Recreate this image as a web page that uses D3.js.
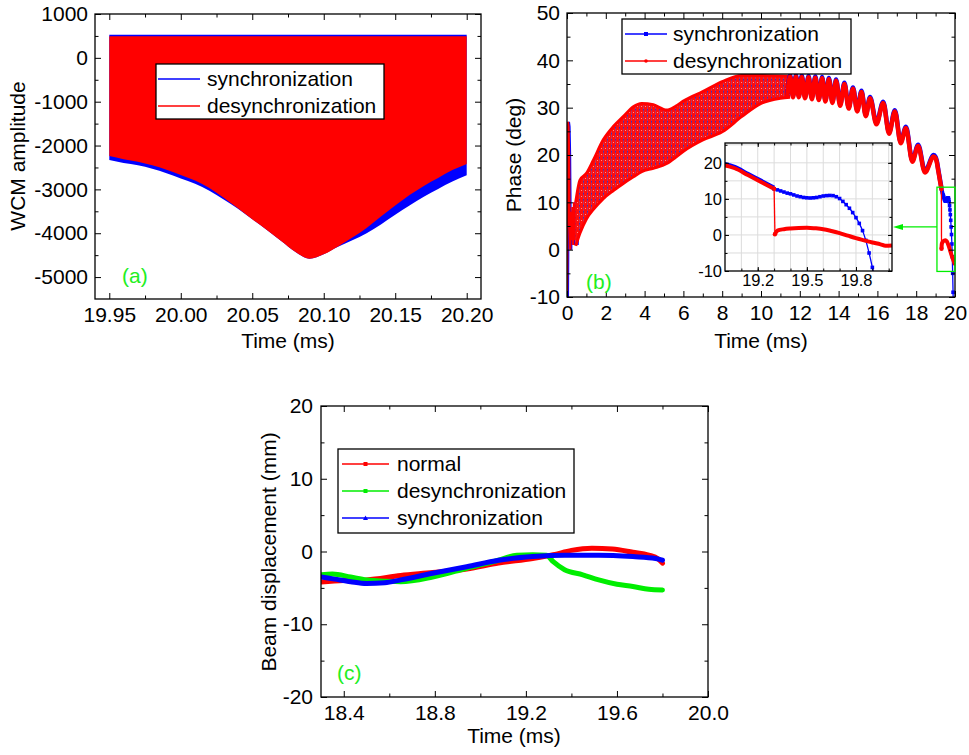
<!DOCTYPE html>
<html><head><meta charset="utf-8">
<script src="https://cdn.jsdelivr.net/npm/d3@7"></script>
<style>
body{margin:0;background:#fff;}
svg{display:block;}
</style></head><body>
<svg id="chart" width="969" height="755"></svg>
<script>
const FONT = '"Liberation Sans", Arial, Helvetica, sans-serif';

// ---------------- Panel (a): WCM amplitude envelopes ----------------
const aTime = [19.95,19.96,19.97,19.98,19.99,20.00,20.01,20.02,20.03,20.04,20.05,20.06,20.07,20.08,20.09,20.10,20.11,20.12,20.13,20.14,20.15,20.16,20.17,20.18,20.19,20.20];
const aSyncLow   = [-2330,-2400,-2450,-2530,-2630,-2750,-2870,-3030,-3230,-3440,-3680,-3920,-4170,-4420,-4580,-4480,-4310,-4160,-4000,-3800,-3580,-3370,-3170,-2990,-2820,-2680];
const aDesyncLow = [-2240,-2310,-2370,-2450,-2550,-2670,-2800,-2970,-3190,-3430,-3680,-3920,-4170,-4420,-4580,-4480,-4300,-4100,-3880,-3620,-3370,-3130,-2920,-2740,-2560,-2420];
const aSyncHigh = 525;
const aDesyncHigh = 495;
const aXTicks = [19.95,20.00,20.05,20.10,20.15,20.20];
const aXMinor = [19.975,20.025,20.075,20.125,20.175];
const aYTicks = [-5000,-4000,-3000,-2000,-1000,0,1000];
const aYMinor = [-4500,-3500,-2500,-1500,-500,500];

// ---------------- Panel (b): phase ----------------
const bEarlyT = [0.0,0.02,0.05,0.08,0.11,0.14,0.17,0.2,0.24,0.28,0.32,0.36,0.4,0.45,0.5,0.55];
const bEarlyV = [-10,3,27,26,20,5,0,8,2,9,1,10,2,10,1,11];
const bBandT  = [0.45,0.67,1.0,1.36,1.87,2.39,2.9,3.42,3.85,4.45,5.14,5.6,6.0,7.0,8.0,9.0,10.0,11.0,11.5];
const bBandHi = [10.0,14.7,16.1,18.9,23.2,26.0,28.1,30.2,30.9,30.6,29.5,30.3,31.4,33.4,35.5,36.8,36.8,36.7,36.6];
const bBandLo = [0.8,3.5,6.5,8.5,10.8,12.5,14.0,15.4,16.5,17.2,18.2,19.5,20.8,23.2,24.9,28.1,30.9,32.0,32.2];
const bOscT = [11.35,11.5,11.65,11.8,11.95,12.1,12.27,12.45,12.62,12.8,12.98,13.15,13.32,13.5,13.68,13.87,14.08,14.3,14.52,14.74,14.96,15.18,15.4,15.62,15.95,16.3,16.6,16.9,17.2,17.47,17.8,18.1,18.45,18.9,19.0,19.06,19.14,19.22,19.3];
const bOscV = [32.3,36.6,32.2,36.6,32.2,36.5,32.0,36.4,31.8,36.3,31.6,36.2,31.3,36.0,31.0,35.7,30.4,35.0,29.8,34.0,29.2,33.3,28.2,32.0,26.5,31.0,24.5,29.2,22.5,25.7,18.6,21.9,16.3,19.7,19.3,18.5,16.6,14.7,12.8];
const bSyncTailT = [19.30,19.32,19.34,19.36,19.38,19.40,19.42,19.44,19.46,19.48,19.50,19.52,19.54,19.56,19.58,19.60,19.62,19.64,19.66,19.68,19.70,19.72,19.74,19.76,19.78,19.80,19.82,19.84,19.86,19.88,19.90,19.92,19.94];
const bSyncTailV = [12.8,12.5,12.2,11.9,11.6,11.4,11.1,10.8,10.6,10.4,10.3,10.25,10.3,10.4,10.6,10.8,10.9,10.95,10.9,10.6,10.1,9.3,8.4,7.4,6.2,4.8,3.2,1.2,-1.5,-5.0,-9.0,-13.5,-18.0];
const bDesyncTailT = [19.305,19.32,19.36,19.4,19.45,19.5,19.55,19.6,19.65,19.7,19.75,19.8,19.85,19.9,19.95,19.98,20.02];
const bDesyncTailV = [0.2,1.2,1.6,1.8,1.95,2.0,1.85,1.6,1.1,0.5,-0.2,-0.9,-1.5,-2.1,-2.6,-3.0,-2.9];
const bZoomT = [19.07,20.0];
const bZoomV = [-4.6,13.2];
const bArrowV = 4.8;
const bXTicks = [0,2,4,6,8,10,12,14,16,18,20];
const bXMinor = [1,3,5,7,9,11,13,15,17,19];
const bYTicks = [-10,0,10,20,30,40,50];
const bYMinor = [-5,5,15,25,35,45];
const iXTicks = [19.2,19.5,19.8];
const iXGrid = [19.1,19.2,19.3,19.4,19.5,19.6,19.7,19.8,19.9,20.0];
const iYTicks = [-10,0,10,20];
const iYGrid = [-5,0,5,10,15,20,25];

// ---------------- Panel (c): beam displacement ----------------
const cNormalT = [18.3,18.4,18.5,18.65,18.79,18.94,19.08,19.23,19.32,19.4,19.49,19.58,19.67,19.74,19.78,19.8];
const cNormalV = [-4.2,-4.0,-3.9,-3.3,-2.9,-2.4,-1.6,-0.95,-0.45,0.15,0.45,0.35,-0.1,-0.5,-1.0,-1.6];
const cDesyncT = [18.3,18.35,18.43,18.5,18.65,18.79,18.94,19.08,19.16,19.23,19.29,19.32,19.37,19.45,19.52,19.6,19.67,19.74,19.8];
const cDesyncV = [-3.2,-3.1,-3.5,-3.9,-4.15,-3.5,-2.3,-1.2,-0.5,-0.45,-0.5,-1.4,-2.5,-3.2,-3.9,-4.5,-4.8,-5.2,-5.3];
const cSyncT = [18.3,18.36,18.43,18.5,18.58,18.65,18.79,18.94,19.08,19.23,19.37,19.52,19.67,19.77,19.8];
const cSyncV = [-3.5,-3.8,-4.15,-4.4,-4.3,-3.9,-3.0,-2.1,-1.2,-0.7,-0.5,-0.5,-0.7,-0.95,-1.2];
const cXTicks = [18.4,18.8,19.2,19.6,20.0];
const cXMinor = [18.6,19.0,19.4,19.8];
const cYTicks = [-20,-10,0,10,20];
const cYMinor = [-15,-5,5,15];

const RED = '#ff0000', BLUE = '#0000ff', GREEN = '#00ee00', LBL = '#22ee22';

// ---------------- layout ----------------
const A = {l:95, r:481, t:14, b:299};
const B = {l:567, r:955, t:13, b:297};
const C = {l:321, r:708, t:406, b:697};
const I = {l:725, r:892, t:143, b:271};

const xa = d3.scaleLinear([19.94,20.21],[A.l,A.r]), ya = d3.scaleLinear([-5500,1000],[A.b,A.t]);
const xb = d3.scaleLinear([0,20],[B.l,B.r]),        yb = d3.scaleLinear([-10,50],[B.b,B.t]);
const xc = d3.scaleLinear([18.3,20.0],[C.l,C.r]),   yc = d3.scaleLinear([-20,20],[C.b,C.t]);
const xi = d3.scaleLinear([19.0,20.02],[I.l,I.r]),  yi = d3.scaleLinear([-10,25.5],[I.b,I.t]);

const svg = d3.select('#chart');
const defs = svg.append('defs');
function clip(id,p){ defs.append('clipPath').attr('id',id).append('rect').attr('x',p.l).attr('y',p.t).attr('width',p.r-p.l).attr('height',p.b-p.t); }
clip('ca',A); clip('cb',B); clip('cc',C); clip('ci',I);

const hatch = defs.append('pattern').attr('id','hatch').attr('patternUnits','userSpaceOnUse').attr('width',4).attr('height',6);
hatch.append('rect').attr('width',4).attr('height',6).attr('fill','#ff0d0d');
hatch.append('rect').attr('x',3).attr('width',1).attr('height',6).attr('fill','#c0305a');
hatch.append('rect').attr('x',3).attr('y',1).attr('width',1).attr('height',1.5).attr('fill','#3a2bc0');
hatch.append('rect').attr('x',1).attr('y',4).attr('width',1).attr('height',1).attr('fill','#ff8a8a');

const zip = (T,V) => T.map((t,i)=>({t, v:V[i]}));
const fmtS = v => String(v);

function axes(p,x,y,o){
  const g = svg.append('g');
  const none = () => '';
  const add = (gen,tr,vals,size,fmt,pad) => {
    const a = g.append('g').attr('transform',tr)
      .call(gen.tickValues(vals).tickSizeInner(size).tickSizeOuter(0).tickPadding(pad).tickFormat(fmt));
    a.select('.domain').remove();
    a.attr('font-family',FONT).attr('font-size',o.fs);
    a.selectAll('line').attr('stroke','#000');
    a.selectAll('text').attr('fill','#000');
  };
  add(d3.axisBottom(x),`translate(0,${p.b})`,o.xt,-o.L,o.xf,o.xp);
  add(d3.axisBottom(x),`translate(0,${p.b})`,o.xm,-o.m,none,0);
  add(d3.axisTop(x),`translate(0,${p.t})`,o.xt,-o.L,none,0);
  add(d3.axisTop(x),`translate(0,${p.t})`,o.xm,-o.m,none,0);
  add(d3.axisLeft(y),`translate(${p.l},0)`,o.yt,-o.L,o.yf,o.yp);
  add(d3.axisLeft(y),`translate(${p.l},0)`,o.ym,-o.m,none,0);
  add(d3.axisRight(y),`translate(${p.r},0)`,o.yt,-o.L,none,0);
  add(d3.axisRight(y),`translate(${p.r},0)`,o.ym,-o.m,none,0);
  g.append('rect').attr('x',p.l).attr('y',p.t).attr('width',p.r-p.l).attr('height',p.b-p.t)
    .attr('fill','none').attr('stroke','#000').attr('stroke-width',1.3);
}

function text(x,y,s,opt={}){
  const t = svg.append('text').attr('x',x).attr('y',y).text(s)
    .attr('font-family',FONT).attr('font-size',opt.fs||21).attr('fill',opt.fill||'#000')
    .attr('text-anchor',opt.anchor||'start');
  if(opt.rot) t.attr('x',null).attr('y',null).attr('transform',`translate(${x},${y}) rotate(-90)`);
  return t;
}

function legend(box, items, lx0, lx1, tx, fs){
  const g = svg.append('g');
  g.append('rect').attr('x',box[0]).attr('y',box[1]).attr('width',box[2]-box[0]).attr('height',box[3]-box[1])
    .attr('fill','#fff').attr('stroke','#000').attr('stroke-width',1.3);
  items.forEach(it=>{
    g.append('line').attr('x1',lx0).attr('x2',lx1).attr('y1',it.y).attr('y2',it.y).attr('stroke',it.color).attr('stroke-width',1.5);
    const mx=(lx0+lx1)/2;
    if(it.marker==='square') g.append('rect').attr('x',mx-2).attr('y',it.y-2).attr('width',4).attr('height',4).attr('fill',it.color);
    if(it.marker==='dot') g.append('circle').attr('cx',mx).attr('cy',it.y).attr('r',1.8).attr('fill',it.color);
    if(it.marker==='tri') g.append('path').attr('d',`M${mx},${it.y-2.5}L${mx+2.5},${it.y+2}L${mx-2.5},${it.y+2}Z`).attr('fill',it.color);
    g.append('text').attr('x',tx).attr('y',it.y+7).text(it.label).attr('font-family',FONT).attr('font-size',fs).attr('fill','#000');
  });
}

// ================= Panel (a) =================
{
  const g = svg.append('g').attr('clip-path','url(#ca)');
  const sync = aTime.map((t,i)=>({t, lo:aSyncLow[i]}));
  const des = aTime.map((t,i)=>({t, lo:aDesyncLow[i]}));
  g.append('path').datum(sync).attr('fill',BLUE)
    .attr('d', d3.area().x(d=>xa(d.t)).y0(d=>ya(d.lo)).y1(()=>ya(aSyncHigh)).curve(d3.curveMonotoneX));
  g.append('path').datum(des).attr('fill',RED)
    .attr('d', d3.area().x(d=>xa(d.t)).y0(d=>ya(d.lo)).y1(()=>ya(aDesyncHigh)).curve(d3.curveMonotoneX));
  axes(A,xa,ya,{xt:aXTicks,xm:aXMinor,yt:aYTicks,ym:aYMinor,xf:v=>v.toFixed(2),yf:fmtS,fs:21,L:6,m:3.5,xp:8,yp:7});
  legend([156,64,384,119],[
    {label:'synchronization',color:BLUE,y:79},
    {label:'desynchronization',color:RED,y:106}], 158, 200, 207, 21);
  text(122,283,'(a)',{fill:LBL});
  text(288,348,'Time (ms)',{anchor:'middle'});
  text(25,156,'WCM amplitude',{anchor:'middle',rot:true});
}

// ================= Panel (b) =================
function drawPhase(g, x, y, main){
  const line = d3.line().x(d=>x(d.t)).y(d=>y(d.v));
  const osc = zip(bOscT,bOscV);
  if(main){
    const early = zip(bEarlyT,bEarlyV);
    g.append('path').datum(early).attr('fill','none').attr('stroke',BLUE).attr('stroke-width',2.5).attr('d',line).attr('transform','translate(0.8,0)');
    g.append('path').datum(early).attr('fill','none').attr('stroke',RED).attr('stroke-width',2.2).attr('d',line);
    const band = bBandT.map((t,i)=>({t,hi:bBandHi[i],lo:bBandLo[i]}));
    g.append('path').datum(band).attr('fill','url(#hatch)')
      .attr('d', d3.area().x(d=>x(d.t)).y0(d=>y(d.lo)).y1(d=>y(d.hi)).curve(d3.curveMonotoneX));
    g.append('path').datum(band).attr('fill','none').attr('stroke',RED).attr('stroke-width',3)
      .attr('d', d3.line().x(d=>x(d.t)).y(d=>y(d.hi)).curve(d3.curveMonotoneX));
    g.append('path').datum(band).attr('fill','none').attr('stroke',RED).attr('stroke-width',3)
      .attr('d', d3.line().x(d=>x(d.t)).y(d=>y(d.lo)).curve(d3.curveMonotoneX));
  }
  const sm = d3.line().x(d=>x(d.t)).y(d=>y(d.v)).curve(d3.curveMonotoneX);
  g.append('path').datum(osc).attr('fill','none').attr('stroke',BLUE).attr('stroke-width',main?4.5:4).attr('d',sm).attr('transform','translate(0,-1.3)');
  g.append('path').datum(osc).attr('fill','none').attr('stroke',RED).attr('stroke-width',main?4.5:4).attr('d',sm);
  const st = zip(bSyncTailT,bSyncTailV);
  g.append('path').datum(st).attr('fill','none').attr('stroke',BLUE).attr('stroke-width',1.3).attr('d',sm);
  g.selectAll(null).data(st).join('rect').attr('x',d=>x(d.t)-1.8).attr('y',d=>y(d.v)-1.8).attr('width',3.6).attr('height',3.6).attr('fill',BLUE);
  const last = osc[osc.length-1];
  const dt = zip(bDesyncTailT,bDesyncTailV);
  g.append('path').datum([last, dt[0]]).attr('fill','none').attr('stroke',RED).attr('stroke-width',1.3).attr('d',line);
  g.append('path').datum(dt).attr('fill','none').attr('stroke',RED).attr('stroke-width',4).attr('d',sm);
  g.append('circle').attr('cx',x(dt[0].t)).attr('cy',y(dt[0].v)).attr('r',2.2).attr('fill',RED);
  g.append('circle').attr('cx',x(last.t)).attr('cy',y(last.v)).attr('r',2.2).attr('fill',RED);
}
{
  const g = svg.append('g').attr('clip-path','url(#cb)');
  drawPhase(g, xb, yb, true);
  axes(B,xb,yb,{xt:bXTicks,xm:bXMinor,yt:bYTicks,ym:bYMinor,xf:fmtS,yf:fmtS,fs:21,L:6,m:3.5,xp:8,yp:7});
  svg.append('rect').attr('x',xb(bZoomT[0])).attr('y',yb(bZoomV[1])).attr('width',xb(bZoomT[1])-xb(bZoomT[0])).attr('height',yb(bZoomV[0])-yb(bZoomV[1]))
    .attr('fill','none').attr('stroke',GREEN).attr('stroke-width',1.3);
  const ay = yb(bArrowV);
  svg.append('line').attr('x1',xb(bZoomT[0])).attr('x2',I.r+8).attr('y1',ay).attr('y2',ay).attr('stroke',GREEN).attr('stroke-width',1.3);
  svg.append('path').attr('d',`M${I.r+1},${ay}L${I.r+11},${ay-3}L${I.r+11},${ay+3}Z`).attr('fill',GREEN);
  svg.append('rect').attr('x',I.l).attr('y',I.t).attr('width',I.r-I.l).attr('height',I.b-I.t).attr('fill','#fff');
  const gg = svg.append('g');
  gg.selectAll(null).data(iXGrid).join('line').attr('x1',d=>xi(d)).attr('x2',d=>xi(d)).attr('y1',I.t).attr('y2',I.b).attr('stroke','#dcdcdc').attr('stroke-width',1);
  gg.selectAll(null).data(iYGrid).join('line').attr('y1',d=>yi(d)).attr('y2',d=>yi(d)).attr('x1',I.l).attr('x2',I.r).attr('stroke','#dcdcdc').attr('stroke-width',1);
  const gi = svg.append('g').attr('clip-path','url(#ci)');
  drawPhase(gi, xi, yi, false);
  axes(I,xi,yi,{xt:iXTicks,xm:iXGrid,yt:iYTicks,ym:iYGrid,xf:v=>v.toFixed(1),yf:fmtS,fs:16.5,L:4,m:2.5,xp:3,yp:3});
  legend([622,19,851,74],[
    {label:'synchronization',color:BLUE,y:34,marker:'square'},
    {label:'desynchronization',color:RED,y:61,marker:'dot'}], 625, 667, 673, 21);
  text(586,289,'(b)',{fill:LBL});
  text(761,348,'Time (ms)',{anchor:'middle'});
  text(521,155,'Phase (deg)',{anchor:'middle',rot:true});
}

// ================= Panel (c) =================
{
  const g = svg.append('g').attr('clip-path','url(#cc)');
  const sm = d3.line().x(d=>xc(d.t)).y(d=>yc(d.v)).curve(d3.curveMonotoneX);
  [[cNormalT,cNormalV,RED],[cDesyncT,cDesyncV,GREEN],[cSyncT,cSyncV,BLUE]].forEach(([T,V,col])=>{
    g.append('path').datum(zip(T,V)).attr('fill','none').attr('stroke',col).attr('stroke-width',5)
      .attr('stroke-linecap','round').attr('d',sm);
  });
  axes(C,xc,yc,{xt:cXTicks,xm:cXMinor,yt:cYTicks,ym:cYMinor,xf:v=>v.toFixed(1),yf:fmtS,fs:21,L:6,m:3.5,xp:8,yp:8});
  legend([338,449,574,533],[
    {label:'normal',color:RED,y:464,marker:'square'},
    {label:'desynchronization',color:GREEN,y:491,marker:'square'},
    {label:'synchronization',color:BLUE,y:518,marker:'tri'}], 342, 389, 397, 21);
  text(337,680,'(c)',{fill:LBL});
  text(514,743,'Time (ms)',{anchor:'middle'});
  text(276,552,'Beam displacement (mm)',{anchor:'middle',rot:true});
}
</script>
</body></html>
